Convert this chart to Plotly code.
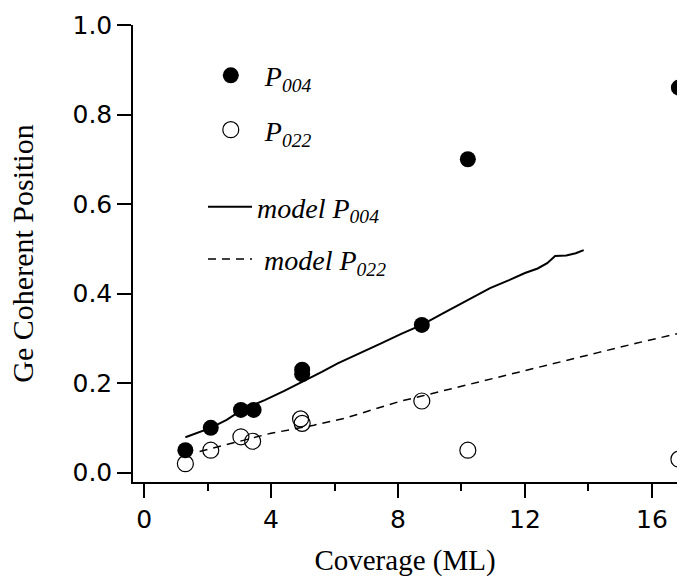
import plotly.graph_objects as go

# ---- data ----
coverage_p004 = [1.3, 2.1, 3.05, 3.45, 4.98, 4.98, 8.75, 10.2, 16.85]
p004 = [0.05, 0.10, 0.14, 0.14, 0.22, 0.23, 0.33, 0.70, 0.86]

coverage_p022 = [1.3, 2.1, 3.05, 3.42, 4.93, 4.98, 8.75, 10.2, 16.85]
p022 = [0.02, 0.05, 0.08, 0.07, 0.12, 0.11, 0.16, 0.05, 0.03]

model_x_004 = [1.3, 1.7, 2.1, 2.6, 3.0, 3.4, 3.8, 4.4, 5.0, 5.6, 6.1, 6.8, 7.45,
               8.1, 8.75, 9.4, 10.0, 10.9, 11.5, 12.0, 12.4, 12.7, 12.95, 13.3,
               13.6, 13.85]
model_y_004 = [0.079, 0.089, 0.100, 0.118, 0.136, 0.150, 0.162, 0.182, 0.203,
               0.225, 0.244, 0.266, 0.288, 0.310, 0.330, 0.355, 0.378, 0.412,
               0.430, 0.446, 0.456, 0.468, 0.484, 0.485, 0.490, 0.497]

model_x_022 = [1.75, 2.6, 3.4, 4.0, 4.7, 5.35, 6.3, 7.45, 8.1, 8.75, 9.6, 10.6,
               11.6, 12.7, 13.5, 14.3, 15.5, 16.85]
model_y_022 = [0.047, 0.062, 0.076, 0.088, 0.097, 0.106, 0.121, 0.147, 0.160,
               0.171, 0.186, 0.203, 0.222, 0.240, 0.254, 0.268, 0.289, 0.311]

x_ticks = [0, 4, 8, 12, 16]
y_ticks = [0.0, 0.2, 0.4, 0.6, 0.8, 1.0]

SERIF = "Liberation Serif, Times New Roman, serif"
SANS = "DejaVu Sans, Verdana, sans-serif"
NB = "\u00a0"

fig = go.Figure()

fig.add_trace(go.Scatter(
    x=model_x_004, y=model_y_004, mode="lines",
    line=dict(color="black", width=2),
    name="<i>model P<sub>004</sub></i>", legend="legend2", legendgroup="m1"))
fig.add_trace(go.Scatter(
    x=model_x_022, y=model_y_022, mode="lines",
    line=dict(color="black", width=1.5, dash="8px,6px"),
    name=NB + "<i>model P<sub>022</sub></i>", legend="legend2", legendgroup="m2"))
fig.add_trace(go.Scatter(
    x=coverage_p004, y=p004, mode="markers",
    marker=dict(symbol="circle", size=16, color="black"),
    name=NB + NB + "<i>P<sub>004</sub></i>", legend="legend", legendgroup="p1"))
fig.add_trace(go.Scatter(
    x=coverage_p022, y=p022, mode="markers",
    marker=dict(symbol="circle-open", size=16, color="black", line=dict(width=1.2)),
    name=NB + NB + "<i>P<sub>022</sub></i>", legend="legend", legendgroup="p2"))

legend_common = dict(
    font=dict(family=SERIF, size=28, color="black"),
    bgcolor="rgba(0,0,0,0)", borderwidth=0,
    xanchor="left", yanchor="top", traceorder="grouped",
)

fig.update_layout(
    width=685, height=582,
    margin=dict(l=133, r=8, t=25, b=100),
    paper_bgcolor="white", plot_bgcolor="white",
    showlegend=True,
    legend=dict(x=0.143, y=0.944, tracegroupgap=15, itemwidth=30, **legend_common),
    legend2=dict(x=0.1287, y=0.6565, tracegroupgap=13, itemwidth=44, **legend_common),
    xaxis=dict(
        range=[-0.35, 16.79], tickvals=x_ticks, ticktext=[str(v) for v in x_ticks],
        showline=True, linecolor="black", linewidth=1.5,
        ticks="outside", ticklen=14, tickwidth=1.5, tickcolor="black",
        minor=dict(dtick=2, tick0=0, ticks="outside", ticklen=7, tickwidth=1.5, tickcolor="black"),
        showgrid=False, zeroline=False,
        tickfont=dict(family=SANS, size=25, color="black"),
        title=dict(text="Coverage (ML)", font=dict(family=SERIF, size=29, color="black"), standoff=17),
    ),
    yaxis=dict(
        range=[-0.021, 1.0], tickvals=y_ticks, ticktext=[f"{v:.1f}" for v in y_ticks],
        showline=True, linecolor="black", linewidth=1.5,
        ticks="outside", ticklen=14, tickwidth=1.5, tickcolor="black",
        showgrid=False, zeroline=False,
        tickfont=dict(family=SANS, size=25, color="black"),
        title=dict(text="Ge Coherent Position", font=dict(family=SERIF, size=30, color="black"), standoff=30),
    ),
)

fig.write_html("out.html")
